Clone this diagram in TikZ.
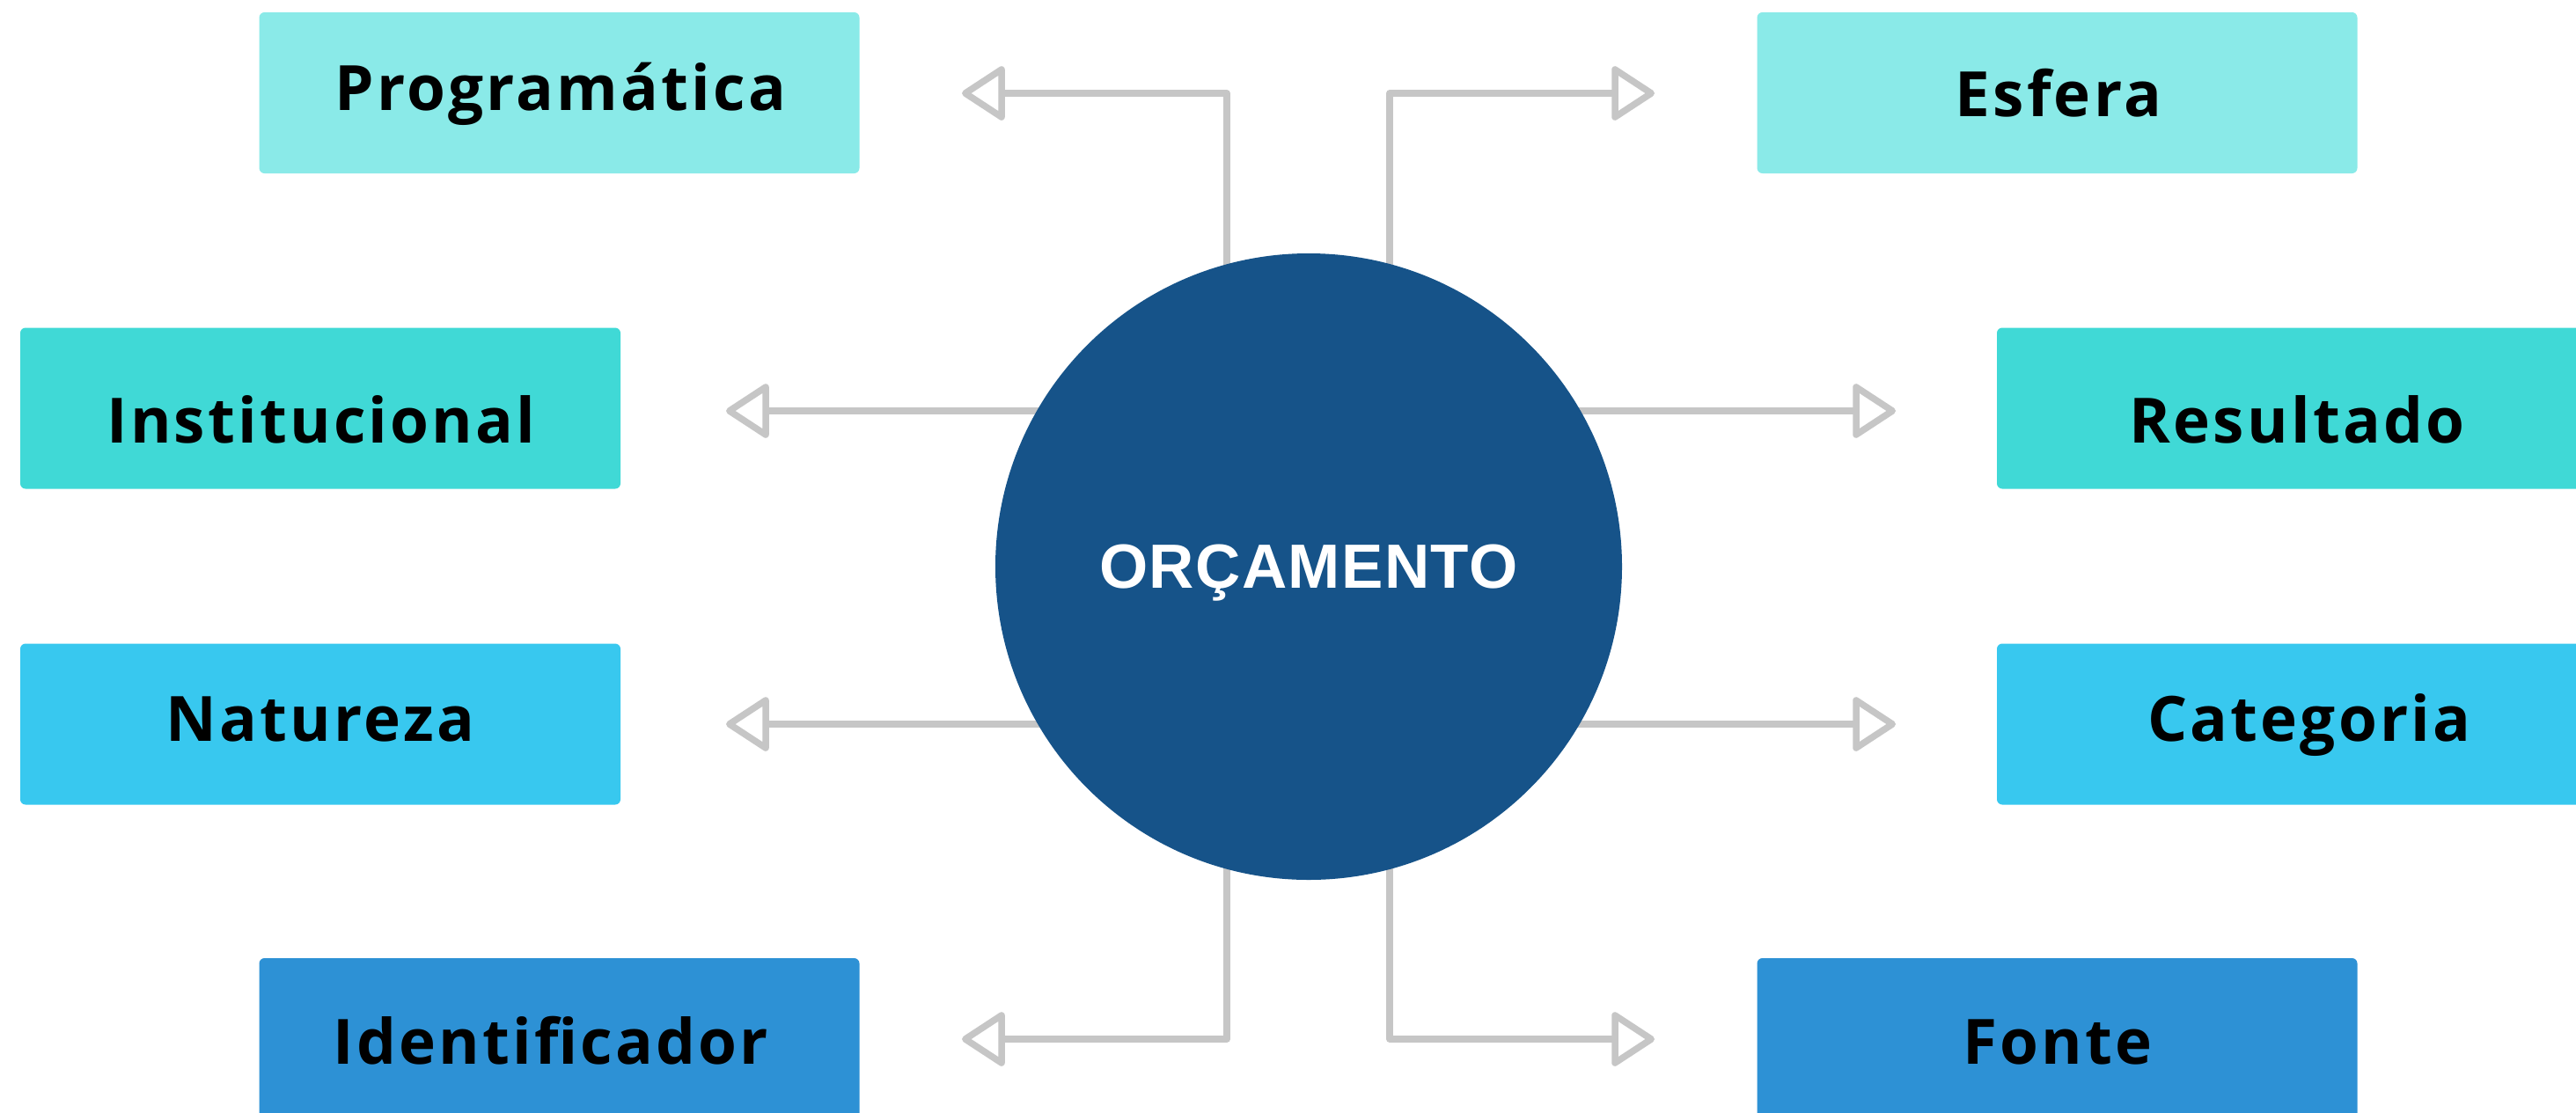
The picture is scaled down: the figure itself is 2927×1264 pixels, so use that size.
\documentclass[tikz,border=0pt]{standalone}
\usepackage{fontspec}
\setmainfont{Open Sans}
\newfontfamily\lblfont[LetterSpace=4.5]{Open Sans}
\newfontfamily\ctrfont[LetterSpace=2]{Liberation Sans}
\usetikzlibrary{arrows.meta,backgrounds,calc}
\definecolor{cA}{HTML}{8AEAE8}
\definecolor{cB}{HTML}{40D9D6}
\definecolor{cC}{HTML}{38C8EF}
\definecolor{cD}{HTML}{2D91D5}
\definecolor{circfill}{HTML}{165389}
\definecolor{lineg}{HTML}{C6C6C6}
\begin{document}
\begin{tikzpicture}[x=1pt,y=-1pt,
  box/.style={draw=none, rounded corners=6pt, minimum width=682pt, minimum height=183pt, inner sep=0pt, fill=#1},
  lbl/.style={font=\lblfont\bfseries\fontsize{71}{80}\selectfont, text=black, inner sep=0pt, anchor=base},
  conn/.style={draw=lineg, line width=7.5pt, line join=round, -{Triangle[open,length=52pt,width=66pt,round]}},
  circ/.style={circle, fill=circfill, minimum size=712pt, inner sep=0pt, text=white,
    font=\ctrfont\bfseries\fontsize{71}{80}\selectfont, text height=49pt, text depth=0pt}]
\useasboundingbox (0,0) rectangle (2927,1264);
\clip (0,0) rectangle (2927,1264);

% boxes
\node[box=cA] (bP) at (635.5,105.5) {};
\node[box=cB] (bI) at (364,464) {};
\node[box=cC] (bN) at (364,823) {};
\node[box=cD] (bId) at (635.5,1180.5) {};
\node[box=cA] (bE) at (2337.5,105.5) {};
\node[box=cB] (bR) at (2610,464) {};
\node[box=cC] (bC) at (2610,823) {};
\node[box=cD] (bF) at (2337.5,1180.5) {};

% labels
\node[lbl] (lP) at (637,125) {Programática};
\node[lbl] (lI) at (365,503) {Institucional};
\node[lbl] (lN) at (364,842) {Natureza};
\node[lbl] (lId) at (626,1209) {Identificador};
\node[lbl] (lE) at (2339,132) {Esfera};
\node[lbl] (lR) at (2610,503) {Resultado};
\node[lbl] (lC) at (2624,842) {Categoria};
\node[lbl] (lF) at (2338,1209) {Fonte};

% centre
\node[circ] (c) at (1487,644) {ORÇAMENTO};

% arrow ends
\coordinate (tP) at (1093,106);
\coordinate (tE) at (1880,106);
\coordinate (tI) at (825,467);
\coordinate (tR) at (2154,467);
\coordinate (tN) at (825,823);
\coordinate (tC) at (2154,823);
\coordinate (tId) at (1093,1181);
\coordinate (tF) at (1880,1181);

\begin{pgfonlayer}{background}
\fill[white] (0,0) rectangle (2927,1264);
\draw[conn] ($(c)+(-93,0)$) |- (tP);
\draw[conn] ($(c)+(92,0)$) |- (tE);
\draw[conn] (c.center |- tI) -- (tI);
\draw[conn] (c.center |- tR) -- (tR);
\draw[conn] (c.center |- tN) -- (tN);
\draw[conn] (c.center |- tC) -- (tC);
\draw[conn] ($(c)+(-93,0)$) |- (tId);
\draw[conn] ($(c)+(92,0)$) |- (tF);
\end{pgfonlayer}
\end{tikzpicture}
\end{document}
